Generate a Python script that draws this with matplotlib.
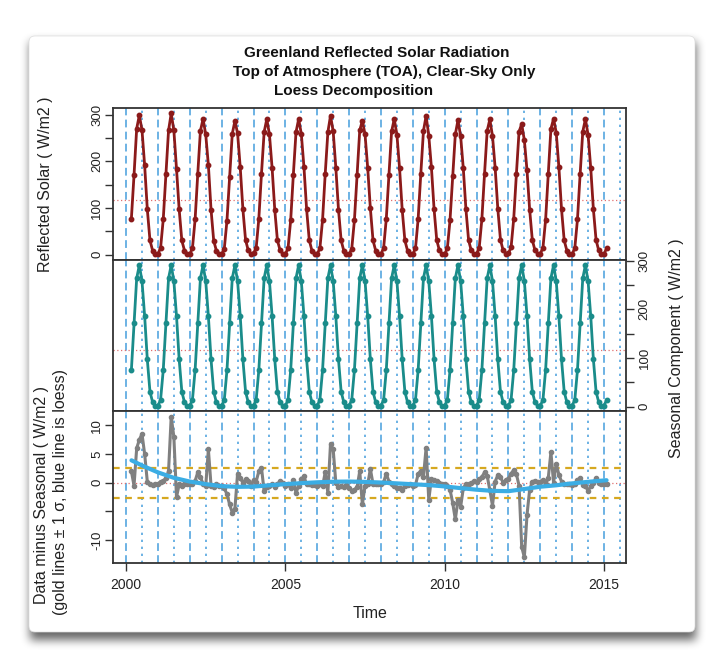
import numpy as np
import matplotlib.pyplot as plt
from matplotlib.patches import FancyBboxPatch

plt.rcParams['font.family'] = ['Liberation Sans', 'DejaVu Sans']

# monthly series, March 2000 .. February 2015
start = 2000 + 2 / 12

# observed reflected solar (W/m2)
reflected = [
    77.0, 170.5, 270.0, 298.5, 266.5, 191.0, 97.2, 30.7, 8.6, 1.7,          # 2000 Mar-Dec
    1.8, 14.2, 75.3, 171.8, 266.0, 302.5, 266.0, 183.5, 96.7, 30.4, 8.8, 1.7,  # 2001
    1.8, 13.7, 75.3, 172.8, 265.0, 290.8, 257.4, 191.8, 96.5, 30.2, 8.7, 1.5,  # 2002
    1.4, 13.0, 73.0, 167.2, 258.8, 286.5, 259.6, 186.8, 97.0, 31.6, 9.3, 1.5,  # 2003
    2.5, 14.2, 77.0, 173.6, 262.5, 290.3, 257.4, 185.7, 96.2, 30.7, 9.3, 1.9,  # 2004
    1.4, 13.8, 74.0, 171.5, 262.2, 290.5, 258.6, 187.1, 96.7, 30.8, 8.6, 1.6,  # 2005
    1.5, 13.7, 74.4, 172.8, 262.2, 297.8, 263.8, 186.0, 96.3, 30.5, 8.3, 1.6,  # 2006
    1.1, 12.6, 73.8, 170.2, 266.0, 287.2, 257.5, 185.7, 99.4, 30.8, 8.7, 1.8,  # 2007
    1.7, 14.1, 76.6, 171.2, 263.8, 290.4, 257.1, 185.0, 95.7, 30.5, 8.6, 1.8,  # 2008
    1.5, 13.6, 76.5, 173.1, 265.0, 297.1, 255.0, 186.7, 97.4, 31.3, 9.0, 1.8,  # 2009
    1.7, 13.5, 73.8, 167.5, 257.6, 288.0, 253.8, 185.0, 96.8, 30.7, 8.9, 2.3,  # 2010
    2.2, 14.6, 76.0, 172.8, 265.2, 289.7, 254.0, 186.2, 98.3, 32.0, 9.0, 2.4,  # 2011
    2.7, 15.6, 77.2, 172.5, 263.5, 279.8, 245.0, 180.4, 95.8, 31.2, 9.3, 2.1,  # 2012
    2.2, 14.5, 74.7, 171.8, 269.3, 291.0, 261.3, 187.4, 97.2, 30.7, 8.7, 1.8,  # 2013
    1.6, 13.8, 75.5, 171.8, 263.6, 290.4, 256.6, 185.4, 97.0, 31.8, 8.9, 1.7,  # 2014
    1.7, 13.7,                                                                 # 2015 Jan-Feb
]

# seasonal component, Jan..Dec
seasonal_cycle = [2, 14, 75, 171, 264, 291, 258, 186, 97, 31, 9, 2]

# data minus seasonal
remainder = [
    2.0, -0.5, 6.0, 7.5, 8.5, 5.0, 0.2, -0.3, -0.4, -0.3,
    -0.2, 0.2, 0.3, 0.8, 2.0, 11.5, 8.0, -2.5, -0.3, -0.6, -0.2, -0.3,
    -0.2, -0.3, 0.3, 1.8, 1.0, -0.2, -0.6, 5.8, -0.5, -0.8, -0.3, -0.5,
    -0.6, -1.0, -2.0, -3.8, -5.2, -4.5, 1.6, 0.8, 0.0, 0.6, 0.3, -0.5,
    0.5, 0.2, 2.0, 2.6, -1.5, -0.7, -0.6, -0.3, -0.8, -0.3, 0.3, -0.1,
    -0.6, -0.2, -1.0, 0.5, -1.8, -0.5, 0.6, 1.1, -0.3, -0.2, -0.4, -0.4,
    -0.5, -0.3, -0.6, 1.8, -1.8, 6.8, 5.8, 0.0, -0.7, -0.5, -0.7, -0.4,
    -0.9, -1.4, -1.2, -0.8, 2.0, -3.8, -0.5, -0.3, 2.4, -0.2, -0.3, -0.2,
    -0.3, 0.1, 1.6, 0.2, -0.2, -0.6, -0.9, -1.0, -1.3, -0.5, -0.4, -0.2,
    -0.5, -0.4, 1.5, 2.1, 1.0, 6.1, -3.0, 0.7, 0.4, 0.3, 0.0, -0.2,
    -0.3, -0.5, -1.2, -3.5, -6.4, -3.0, -4.2, -1.0, -0.2, -0.3, -0.1, 0.3,
    0.2, 0.6, 1.0, 1.8, 1.2, -1.3, -4.0, 0.2, 1.3, 1.0, 0.0, 0.4,
    0.7, 1.6, 2.2, 1.5, -0.5, -11.2, -13.0, -5.6, -1.2, 0.2, 0.3, 0.1,
    0.2, 0.5, -0.3, 0.8, 5.3, 0.0, 3.3, 1.4, 0.2, -0.3, -0.3, -0.2,
    -0.4, -0.2, 0.5, 0.8, -0.4, -0.6, -1.4, -0.6, 0.0, 0.8, -0.1, -0.3,
    -0.3, -0.3,
]

# loess fit of the remainder
trend_t = [2000.17, 2000.5, 2001.0, 2001.5, 2002.0, 2002.5, 2003.0, 2003.5,
           2004.0, 2004.5, 2005.0, 2005.5, 2006.0, 2006.5, 2007.0, 2007.5,
           2008.0, 2008.5, 2009.0, 2009.5, 2010.0, 2010.5, 2011.0, 2011.5,
           2012.0, 2012.5, 2013.0, 2013.5, 2014.0, 2014.5, 2015.08]
trend_v = [3.9, 3.0, 1.8, 0.85, 0.2, -0.25, -0.6, -0.72,
           -0.68, -0.45, -0.25, -0.08, 0.07, 0.17, 0.2, 0.14,
           0.03, -0.12, -0.27, -0.42, -0.65, -0.95, -1.22, -1.42,
           -1.48, -1.1, -0.7, -0.45, -0.12, 0.15, 0.43]

sigma = 2.6

t = start + np.arange(len(reflected)) / 12
seasonal = np.tile(seasonal_cycle, 16)[2:2 + len(reflected)]

red_c = '#8B1A1A'
teal_c = '#1A8C8A'
gray_c = '#808080'
loess_c = '#3BADE4'
gold_c = '#D6A820'
vline_c = '#6CB2E4'
mean_c = '#E07070'
frame_c = '#333333'

W, H = 725, 668
fig = plt.figure(figsize=(W / 100, H / 100), dpi=100)
fig.patch.set_facecolor('white')

# card with drop shadow
bg = fig.add_axes([0, 0, 1, 1])
bg.axis('off')
mask = np.zeros((H, W))
mask[42:640, 30:696] = 1.0
k = np.ones(9) / 9
for _ in range(3):
    mask = np.apply_along_axis(lambda r: np.convolve(r, k, mode='same'), 1, mask)
    mask = np.apply_along_axis(lambda c: np.convolve(c, k, mode='same'), 0, mask)
rgba = np.zeros((H, W, 4))
rgba[..., 3] = 0.6 * mask
bg.imshow(rgba, extent=(0, W, H, 0), interpolation='bilinear')
bg.add_patch(FancyBboxPatch((29, 36), 666, 596, boxstyle='round,pad=0,rounding_size=6',
                            facecolor='white', edgecolor='#dddddd', lw=0.5))
bg.set_xlim(0, W)
bg.set_ylim(H, 0)


def fig_box(top, bottom):
    return [113 / W, (H - bottom) / H, 513 / W, (bottom - top) / H]


ax1 = fig.add_axes(fig_box(108, 260))
ax2 = fig.add_axes(fig_box(260, 411))
ax3 = fig.add_axes(fig_box(411, 563))

for ax in (ax1, ax2, ax3):
    ax.set_xlim(1999.59, 2015.69)
    for yr in range(2000, 2016):
        ax.axvline(yr, color=vline_c, lw=1.4, dashes=(4, 2.2), zorder=1)
        ax.axvline(yr + 0.5, color=vline_c, lw=1.4, dashes=(1.2, 2.4), zorder=1)
    for s in ax.spines.values():
        s.set_color(frame_c)
        s.set_linewidth(1.3)
    ax.tick_params(direction='out', length=6, width=1, color=frame_c,
                   labelsize=9.5, labelcolor='#222222')

# panel 1: data
ax1.axhline(np.mean(reflected), color=mean_c, lw=0.9, ls=(0, (1, 2)), zorder=1)
ax1.plot(t, reflected, color=red_c, lw=2, marker='o', ms=3.2, zorder=3)
ax1.set_ylim(-11.5, 314)
ax1.set_xticks([])
ax1.set_yticks([0, 50, 100, 150, 200, 250, 300],
               ['0', '', '100', '', '200', '', '300'], rotation=90, va='center')
ax1.tick_params(axis='y', pad=1)

# panel 2: seasonal
ax2.axhline(np.mean(seasonal), color=mean_c, lw=0.9, ls=(0, (1, 2)), zorder=1)
ax2.plot(t, seasonal, color=teal_c, lw=2, marker='o', ms=3.2, zorder=3)
ax2.set_ylim(-9, 301.5)
ax2.set_xticks([])
ax2.yaxis.tick_right()
ax2.set_yticks([0, 50, 100, 150, 200, 250, 300],
               ['0', '', '100', '', '200', '', '300'], rotation=90, va='center')
ax2.tick_params(axis='y', pad=3)

# panel 3: data minus seasonal
ax3.axhline(0, color=mean_c, lw=0.9, ls=(0, (1, 2)), zorder=1)
for lev in (sigma, -sigma):
    ax3.axhline(lev, color=gold_c, lw=1.6, dashes=(3, 2.5), zorder=2)
ax3.plot(t, remainder, color=gray_c, lw=2.2, marker='o', ms=3, zorder=3)
ax3.plot(trend_t, trend_v, color=loess_c, lw=3, zorder=4, solid_capstyle='round')
ax3.set_ylim(-14, 12.5)
ax3.set_yticks([-10, -5, 0, 5, 10], ['-10', '', '0', '5', '10'], rotation=90, va='center')
ax3.set_xticks([2000, 2005, 2010, 2015])
ax3.tick_params(axis='y', pad=1)
ax3.tick_params(axis='x', pad=5, labelsize=10)

# titles and labels
title_lines = ['Greenland Reflected Solar Radiation',
               'Top of Atmosphere (TOA), Clear-Sky Only',
               'Loess Decomposition']
title_x = [377, 384, 354]
title_y = [53, 72, 91]
for txt, x, y in zip(title_lines, title_x, title_y):
    fig.text(x / W, 1 - y / H, txt, ha='center', va='center', fontsize=11,
             fontweight='bold', color='#111111')

fig.text(46 / W, 1 - 184 / H, 'Reflected Solar ( W/m2 )', rotation=90,
         ha='center', va='center', fontsize=11.5, color='#222222')
fig.text(677 / W, 1 - 348 / H, 'Seasonal Component ( W/m2 )', rotation=90,
         ha='center', va='center', fontsize=11.5, color='#222222')
fig.text(42 / W, 1 - 495 / H, 'Data minus Seasonal ( W/m2 )', rotation=90,
         ha='center', va='center', fontsize=11.5, color='#222222')
fig.text(61 / W, 1 - 492 / H, '(gold lines \u00b1 1 \u03c3, blue line is loess)', rotation=90,
         ha='center', va='center', fontsize=11.5, color='#222222')
fig.text(370 / W, 1 - 613 / H, 'Time', ha='center', va='center',
         fontsize=11.5, color='#222222')

fig.savefig('out.png', dpi=100)
